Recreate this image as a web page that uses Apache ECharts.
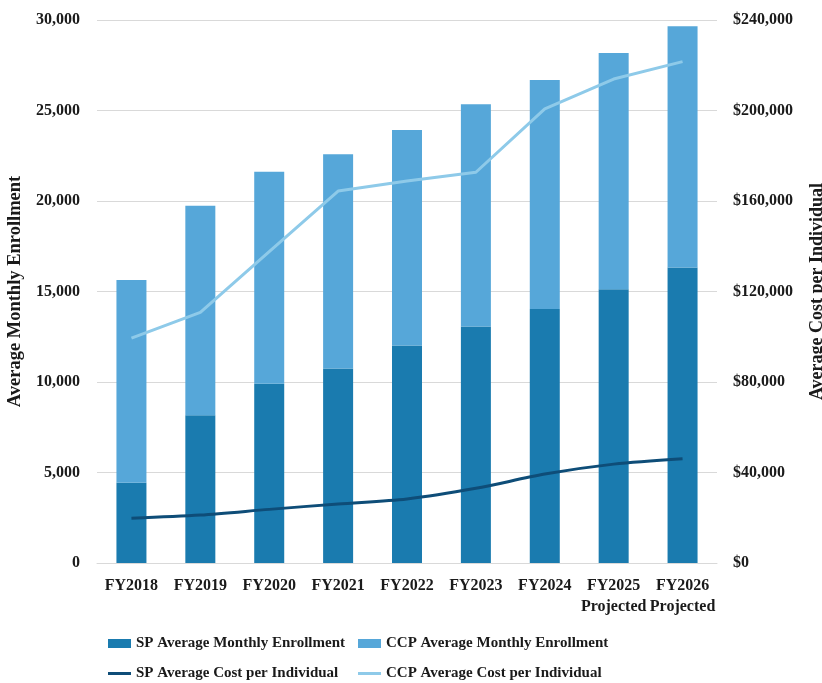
<!DOCTYPE html>
<html>
<head>
<meta charset="utf-8">
<script src="https://cdn.jsdelivr.net/npm/echarts@6/dist/echarts.min.js"></script>
<style>
  html, body { margin: 0; padding: 0; background: #fff; }
  #chart { width: 822px; height: 683px; }
</style>
</head>
<body>
<div id="chart"></div>
<script>
// Fiscal years shown on the category axis
const years = ['FY2018', 'FY2019', 'FY2020', 'FY2021', 'FY2022', 'FY2023', 'FY2024', 'FY2025\nProjected', 'FY2026\nProjected'];

// Average monthly enrollment (stacked bars, left axis)
const spEnrollment = [4440, 8160, 9910, 10740, 12010, 13060, 14030, 15120, 16330];
const ccpEnrollment = [11200, 11580, 11710, 11840, 11910, 12280, 12650, 13060, 13320];

// Average cost per individual (lines, right axis)
const spCost = [19800, 21200, 23700, 26100, 28300, 33000, 39300, 43700, 46100];
const ccpCost = [99400, 110800, 137600, 164400, 168800, 172700, 200700, 213900, 221600];

// Axis tick settings
const enrollmentTicks = { min: 0, max: 30000, interval: 5000 };
const costTicks = { min: 0, max: 240000, interval: 40000 };

const FONT = '"Liberation Serif", "DejaVu Serif", serif';
const TEXT = '#1a1a1a';
const SP_BAR = '#1a7baf';
const CCP_BAR = '#56a7d9';
const SP_LINE = '#0e4d78';
const CCP_LINE = '#8ecae9';

const fmtThousands = v => v.toLocaleString('en-US');
const fmtDollars = v => '$' + v.toLocaleString('en-US');

function legendAt(left, top, name, color, h) {
  return {
    left: left, top: top,
    padding: 0,
    itemWidth: 23, itemHeight: h,
    icon: 'rect',
    selectedMode: false,
    textStyle: { fontFamily: FONT, fontSize: 15, fontWeight: 'bold', color: TEXT },
    data: [{ name: name, icon: 'rect', itemStyle: { color: color, borderWidth: 0 } }]
  };
}

const chart = echarts.init(document.getElementById('chart'), null, { renderer: 'canvas' });
chart.setOption({
  backgroundColor: '#ffffff',
  animation: false,
  grid: { left: 97, right: 105, top: 20, bottom: 120, outerBoundsMode: 'none', containLabel: false },
  legend: [
    legendAt(108, 636, 'SP Average Monthly Enrollment', SP_BAR, 9),
    legendAt(358, 636, 'CCP Average Monthly Enrollment', CCP_BAR, 9),
    legendAt(108, 666, 'SP Average Cost per Individual', SP_LINE, 3),
    legendAt(358, 666, 'CCP Average Cost per Individual', CCP_LINE, 3)
  ],
  xAxis: {
    type: 'category',
    data: years,
    axisTick: { show: false },
    axisLine: { show: true, lineStyle: { color: '#d9d9d9', width: 1 } },
    axisLabel: {
      interval: 0,
      margin: 12,
      lineHeight: 21,
      fontFamily: FONT, fontSize: 16, fontWeight: 'bold', color: TEXT
    }
  },
  yAxis: [
    {
      type: 'value',
      min: enrollmentTicks.min, max: enrollmentTicks.max, interval: enrollmentTicks.interval,
      name: 'Average Monthly Enrollment',
      nameLocation: 'middle',
      nameRotate: 90,
      nameGap: 65,
      nameTextStyle: { fontFamily: FONT, fontSize: 18.5, fontWeight: 'bold', color: TEXT },
      axisLine: { show: false },
      axisTick: { show: false },
      axisLabel: {
        margin: 17,
        formatter: fmtThousands,
        fontFamily: FONT, fontSize: 16, fontWeight: 'bold', color: TEXT
      },
      splitLine: { lineStyle: { color: '#d9d9d9', width: 1 } }
    },
    {
      type: 'value',
      position: 'right',
      min: costTicks.min, max: costTicks.max, interval: costTicks.interval,
      name: 'Average Cost per Individual',
      nameLocation: 'middle',
      nameRotate: 90,
      nameGap: 91,
      nameTextStyle: { fontFamily: FONT, fontSize: 18, fontWeight: 'bold', color: TEXT },
      axisLine: { show: false },
      axisTick: { show: false },
      axisLabel: {
        margin: 16,
        formatter: fmtDollars,
        fontFamily: FONT, fontSize: 16, fontWeight: 'bold', color: TEXT
      },
      splitLine: { show: false }
    }
  ],
  series: [
    {
      name: 'SP Average Monthly Enrollment',
      type: 'bar',
      stack: 'enrollment',
      yAxisIndex: 0,
      barWidth: 30,
      itemStyle: { color: SP_BAR },
      data: spEnrollment
    },
    {
      name: 'CCP Average Monthly Enrollment',
      type: 'bar',
      stack: 'enrollment',
      yAxisIndex: 0,
      barWidth: 30,
      itemStyle: { color: CCP_BAR },
      data: ccpEnrollment
    },
    {
      name: 'SP Average Cost per Individual',
      type: 'line',
      yAxisIndex: 1,
      smooth: 0.3,
      symbol: 'none',
      lineStyle: { color: SP_LINE, width: 3 },
      itemStyle: { color: SP_LINE },
      data: spCost
    },
    {
      name: 'CCP Average Cost per Individual',
      type: 'line',
      yAxisIndex: 1,
      symbol: 'none',
      lineStyle: { color: CCP_LINE, width: 3 },
      itemStyle: { color: CCP_LINE },
      data: ccpCost
    }
  ]
});
</script>
</body>
</html>
